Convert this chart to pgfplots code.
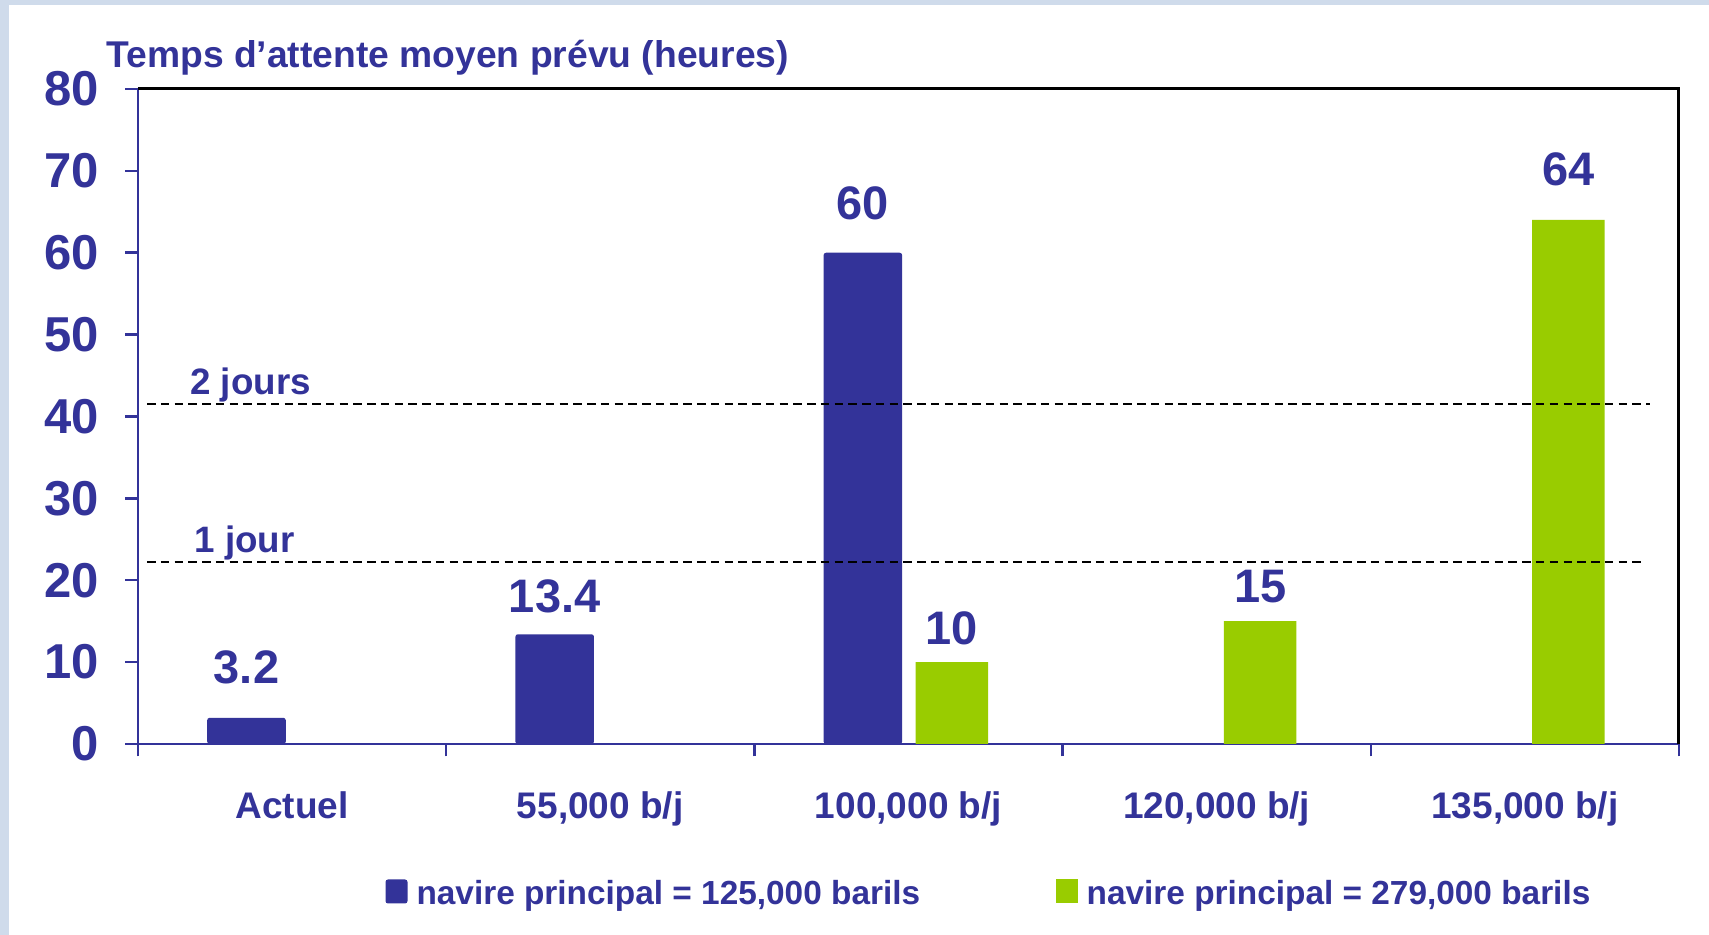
\documentclass[border=0pt]{standalone}
\usepackage{pgfplots}
\pgfplotsset{compat=1.18}
\usepackage{fontspec}
\setmainfont{Liberation Sans}
\definecolor{navy}{HTML}{333399}
\definecolor{lgreen}{HTML}{99CC00}
\definecolor{framec}{HTML}{CFDBEB}

\begin{document}
\begin{tikzpicture}
\path[use as bounding box] (-55.2pt,-76.4pt) rectangle (628.4pt,297.6pt);
\fill[framec] (-55.2pt,-76.4pt) rectangle (628.4pt,297.6pt);
\fill[white] (-51.6pt,-76.4pt) rectangle (628.4pt,295.6pt);
\begin{axis}[
  at={(0pt,0pt)}, anchor=south west,
  scale only axis, width=616.4pt, height=262pt,
  xmin=-0.5, xmax=4.5, ymin=0, ymax=80,
  clip=false,
  axis x line*=bottom, axis y line*=left,
  axis line style={navy, line width=1pt},
  tick align=outside,
  major tick length=5pt,
  tick style={navy, line width=1pt},
  xtick={-0.5,0.5,1.5,2.5,3.5,4.5},
  x tick label as interval,
  xticklabels={{Actuel},{55,000 b/j},{100,000 b/j},{120,000 b/j},{135,000 b/j}},
  ytick={0,10,...,80},
  /pgf/number format/assume math mode=true,
  yticklabel style={font=\fontsize{19.6}{19.6}\selectfont\bfseries, text=navy, anchor=east, inner sep=0pt, xshift=-10.3pt},
  xticklabel style={font=\fontsize{14.8}{14.8}\selectfont\bfseries, text=navy, anchor=base, inner sep=0pt, yshift=-24.7pt},
  legend columns=2,
  legend style={at={(axis description cs:0.1603,-0.2290)}, anchor=west, draw=none, fill=none,
    inner sep=0pt, font=\fontsize{13.35}{13.35}\selectfont\bfseries, text=navy,
    nodes={inner xsep=0pt, inner ysep=1pt},
    /tikz/every odd column/.append style={column sep=3.6pt},
    /tikz/every even column/.append style={column sep=54.2pt}},
]
\addplot[ybar, fill=navy, draw=none, rounded corners=1pt, bar width=0.255, bar shift=0,
  legend image code/.code={\fill[navy, rounded corners=1pt] (0pt,-3.8pt) rectangle (8.8pt,5.8pt);},
  visualization depends on={\thisrow{off}\as\myoff},
  nodes near coords, point meta=explicit symbolic,
  every node near coord/.append style={anchor=base, inner sep=0pt, yshift=\myoff pt,
    font=\fontsize{18.8}{18.8}\selectfont\bfseries, text=navy}]
  table[x=x, y=y, meta=lab] {
  x y lab off
  -0.148 3.2 3.2 13.7
  0.852 13.4 13.4 8.9
  1.852 60 60 13.3
  };
\addlegendentry{navire principal = 125,000 barils}
\addplot[ybar, fill=lgreen, draw=none, bar width=0.235, bar shift=0,
  legend image code/.code={\fill[lgreen] (0pt,-3.8pt) rectangle (8.8pt,5.8pt);},
  visualization depends on={\thisrow{off}\as\myoff},
  nodes near coords, point meta=explicit symbolic,
  every node near coord/.append style={anchor=base, inner sep=0pt, yshift=\myoff pt,
    font=\fontsize{18.8}{18.8}\selectfont\bfseries, text=navy}]
  table[x=x, y=y, meta=lab] {
  x y lab off
  2.141 10 10 7.0
  3.141 15 15 7.4
  4.141 64 64 13.6
  };
\addlegendentry{navire principal = 279,000 barils}
\addplot[black, line width=0.8pt, dash pattern=on 3.4pt off 2.1pt, forget plot] coordinates {(-0.47,41.53) (4.406,41.53)};
\addplot[black, line width=0.8pt, dash pattern=on 3.4pt off 2.1pt, forget plot] coordinates {(-0.47,22.23) (4.389,22.23)};
\node[anchor=base west, inner sep=0pt, font=\fontsize{14.7}{14.7}\selectfont\bfseries, text=navy] at (axis cs:-0.332,42.73) {2 jours};
\node[anchor=base west, inner sep=0pt, font=\fontsize{14.7}{14.7}\selectfont\bfseries, text=navy] at (axis cs:-0.318,23.43) {1 jour};
\draw[black, line width=1.2pt] (rel axis cs:0,1) -- (rel axis cs:1,1) -- (rel axis cs:1,0);
\node[anchor=base west, inner sep=0pt, font=\fontsize{14.9}{14.9}\selectfont\bfseries, text=navy] at (rel axis cs:0,1) [xshift=-12.8pt, yshift=8.4pt] {Temps d’attente moyen prévu (heures)};
\end{axis}
\end{tikzpicture}
\end{document}
